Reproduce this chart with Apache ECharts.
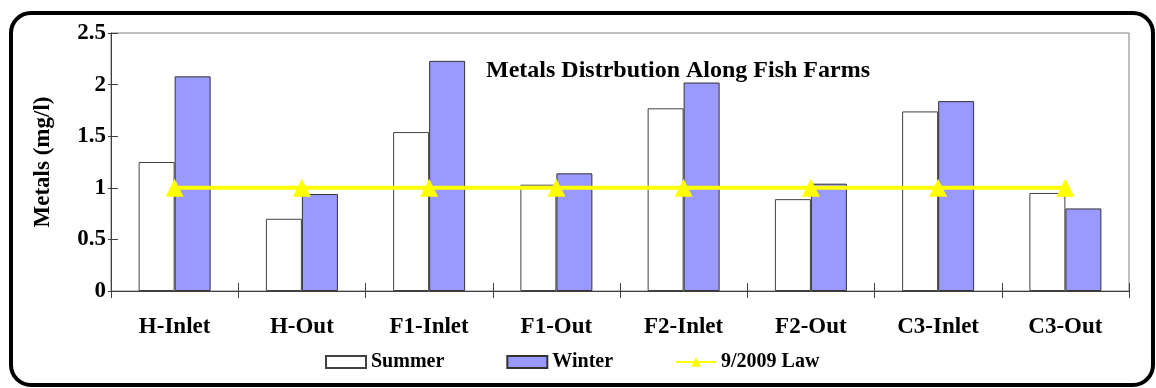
<!DOCTYPE html>
<html>
<head>
<meta charset="utf-8">
<title>Metals Distrbution Along Fish Farms</title>
<script src="https://cdn.jsdelivr.net/npm/echarts@6/dist/echarts.min.js"></script>
<style>
  html, body { margin: 0; padding: 0; background: #fff; }
  #wrap { position: relative; width: 1156px; height: 388px; }
  #frame {
    position: absolute; left: 9px; top: 11px; width: 1146px; height: 376px;
    box-sizing: border-box; border: 4px solid #000; border-radius: 22px;
  }
  #chart { position: absolute; left: 0; top: 0; width: 1156px; height: 388px; }
</style>
</head>
<body>
<div id="wrap">
  <div id="frame"></div>
  <div id="chart"></div>
</div>
<script>
  // sampling sites along the farms
  const categories = ['H-Inlet', 'H-Out', 'F1-Inlet', 'F1-Out', 'F2-Inlet', 'F2-Out', 'C3-Inlet', 'C3-Out'];
  const summerValues = [1.25, 0.70, 1.54, 1.03, 1.77, 0.89, 1.74, 0.95];
  const winterValues = [2.08, 0.94, 2.23, 1.14, 2.02, 1.04, 1.84, 0.80];
  const lawValues = [1, 1, 1, 1, 1, 1, 1, 1]; // 9/2009 law limit
  const yTicks = [0, 0.5, 1, 1.5, 2, 2.5];

  const font = 'Liberation Serif';
  const axisColor = '#404040';

  const chart = echarts.init(document.getElementById('chart'));
  chart.setOption({
    backgroundColor: 'transparent',
    animation: false,
    title: {
      text: 'Metals Distrbution Along Fish Farms',
      left: 673,
      top: 54,
      textAlign: 'center',
      textStyle: { fontFamily: font, fontWeight: 'bold', fontSize: 24, color: '#000' }
    },
    grid: {
      left: 111, right: 27, top: 33, bottom: 97,
      show: true, borderColor: '#808080', borderWidth: 1
    },
    legend: {
      left: 320,
      top: 347,
      itemWidth: 40,
      itemHeight: 12,
      itemGap: 62,
      textStyle: { fontFamily: font, fontWeight: 'bold', fontSize: 20, color: '#000' },
      data: [
        { name: 'Summer', icon: 'rect' },
        { name: 'Winter', icon: 'rect' },
        { name: '9/2009 Law' }
      ]
    },
    xAxis: [{
      type: 'category',
      data: categories,
      axisLine: { lineStyle: { color: axisColor, width: 1 } },
      axisTick: { show: true, length: 7, lineStyle: { color: axisColor } },
      axisLabel: {
        interval: 0, margin: 25,
        fontFamily: font, fontWeight: 'bold', fontSize: 23, color: '#000'
      },
      splitLine: { show: false }
    }, {
      // inner half of the cross ticks
      type: 'category',
      position: 'bottom',
      data: categories,
      axisLine: { show: false },
      axisTick: { show: true, inside: true, length: 8, lineStyle: { color: axisColor } },
      axisLabel: { show: false },
      splitLine: { show: false }
    }],
    yAxis: [{
      type: 'value',
      min: 0,
      max: 2.5,
      interval: 0.5,
      name: 'Metals (mg/l)',
      nameLocation: 'middle',
      nameGap: 56,
      nameTextStyle: { fontFamily: font, fontWeight: 'bold', fontSize: 23, color: '#000' },
      axisLine: { show: true, lineStyle: { color: axisColor, width: 1 } },
      axisTick: { show: true, length: 3, lineStyle: { color: axisColor } },
      axisLabel: {
        margin: 5,
        fontFamily: font, fontWeight: 'bold', fontSize: 23, color: '#000',
        formatter: function (v) {
          return yTicks.indexOf(v) >= 0 ? String(v) : '';
        }
      },
      splitLine: { show: false }
    }, {
      type: 'value',
      position: 'left',
      min: 0,
      max: 2.5,
      interval: 0.5,
      axisLine: { show: false },
      axisTick: { show: true, inside: true, length: 7, lineStyle: { color: axisColor } },
      axisLabel: { show: false },
      splitLine: { show: false }
    }],
    series: [{
      name: 'Summer',
      type: 'bar',
      data: summerValues,
      barWidth: 36,
      barGap: '0%',
      itemStyle: { color: '#ffffff', borderColor: '#404040', borderWidth: 1 }
    }, {
      name: 'Winter',
      type: 'bar',
      data: winterValues,
      barWidth: 36,
      barGap: '0%',
      itemStyle: { color: '#9999ff', borderColor: '#333333', borderWidth: 1 }
    }, {
      name: '9/2009 Law',
      type: 'line',
      data: lawValues,
      symbol: 'triangle',
      symbolSize: 18,
      z: 5,
      lineStyle: { color: '#ffff00', width: 4 },
      itemStyle: { color: '#ffff00' }
    }]
  });
</script>
</body>
</html>
